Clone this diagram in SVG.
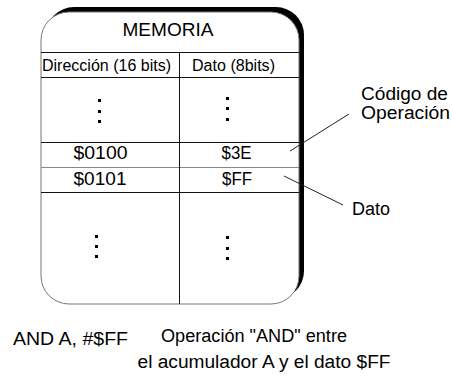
<svg xmlns="http://www.w3.org/2000/svg" width="452" height="376" viewBox="0 0 452 376">
  <style>
    text { font-family: "Liberation Sans", Arial, sans-serif; fill: #000; }
    .cell { font-size: 18px; text-anchor: middle; }
    .head { font-size: 16px; text-anchor: middle; }
    .label { font-size: 18px; }
    .grid { stroke: #111; stroke-width: 1; fill: none; }
    .grid-light { stroke: #888; stroke-width: 1; fill: none; }
    .lead { stroke: #222; stroke-width: 1; fill: none; }
    .dot { fill: #000; }
  </style>

  <!-- memory block: black shadow offset up-right, white panel on top -->
  <g id="memoria">
    <rect x="46" y="7" width="258" height="292" rx="28" ry="28" fill="#000"/>
    <rect x="41" y="12" width="258" height="292" rx="28" ry="28" fill="#fff" stroke="#777" stroke-width="1"/>
    <text x="168" y="36" font-size="19" text-anchor="middle" textLength="91" lengthAdjust="spacingAndGlyphs">MEMORIA</text>

    <!-- table rules -->
    <line class="grid" x1="41" y1="52.5" x2="299" y2="52.5"/>
    <line class="grid" x1="41" y1="77.5" x2="299" y2="77.5"/>
    <line class="grid" x1="41" y1="142.5" x2="299" y2="142.5"/>
    <line class="grid-light" x1="41" y1="167.5" x2="299" y2="167.5"/>
    <line class="grid" x1="41" y1="192.5" x2="299" y2="192.5"/>
    <line class="grid" x1="179.5" y1="52.5" x2="179.5" y2="304"/>

    <!-- column headers -->
    <text class="head" x="106.5" y="70.5" textLength="129" lengthAdjust="spacingAndGlyphs">Dirección (16 bits)</text>
    <text class="head" x="233.5" y="70.5" textLength="83" lengthAdjust="spacingAndGlyphs">Dato (8bits)</text>

    <!-- upper ellipsis -->
    <rect class="dot" x="98" y="99" width="3" height="3"/>
    <rect class="dot" x="98" y="110" width="3" height="3"/>
    <rect class="dot" x="98" y="120" width="3" height="3"/>
    <rect class="dot" x="226" y="97" width="3" height="3"/>
    <rect class="dot" x="226" y="107" width="3" height="3"/>
    <rect class="dot" x="226" y="118" width="3" height="3"/>

    <!-- rows -->
    <text class="cell" x="100.5" y="158.5" textLength="54" lengthAdjust="spacingAndGlyphs">$0100</text>
    <text class="cell" x="236.5" y="158.5" textLength="30" lengthAdjust="spacingAndGlyphs">$3E</text>
    <text class="cell" x="100" y="184.5" textLength="53" lengthAdjust="spacingAndGlyphs">$0101</text>
    <text class="cell" x="237" y="184.5" textLength="30" lengthAdjust="spacingAndGlyphs">$FF</text>

    <!-- lower ellipsis -->
    <rect class="dot" x="95" y="235" width="3" height="3"/>
    <rect class="dot" x="95" y="245" width="3" height="3"/>
    <rect class="dot" x="95" y="255" width="3" height="3"/>
    <rect class="dot" x="226" y="236" width="3" height="3"/>
    <rect class="dot" x="226" y="247" width="3" height="3"/>
    <rect class="dot" x="226" y="257" width="3" height="3"/>
  </g>

  <!-- leader lines from cells to their captions -->
  <g id="connectors">
    <line class="lead" x1="290" y1="151" x2="349" y2="114"/>
    <line class="lead" x1="284" y1="176" x2="343" y2="205"/>
  </g>

  <g id="codigo">
    <text class="label" x="361" y="100" textLength="87" lengthAdjust="spacingAndGlyphs">Código de</text>
    <text class="label" x="361" y="119" textLength="89" lengthAdjust="spacingAndGlyphs">Operación</text>
  </g>

  <g id="dato">
    <text class="label" x="352" y="215" textLength="38" lengthAdjust="spacingAndGlyphs">Dato</text>
  </g>

  <g id="instruccion">
    <text class="label" x="13" y="345" textLength="115" lengthAdjust="spacingAndGlyphs">AND A, #$FF</text>
  </g>

  <g id="descripcion">
    <text class="label" x="161" y="341.5" textLength="186" lengthAdjust="spacingAndGlyphs">Operación "AND" entre</text>
    <text class="label" x="137.5" y="368" textLength="253" lengthAdjust="spacingAndGlyphs">el acumulador A y el dato $FF</text>
  </g>
</svg>
